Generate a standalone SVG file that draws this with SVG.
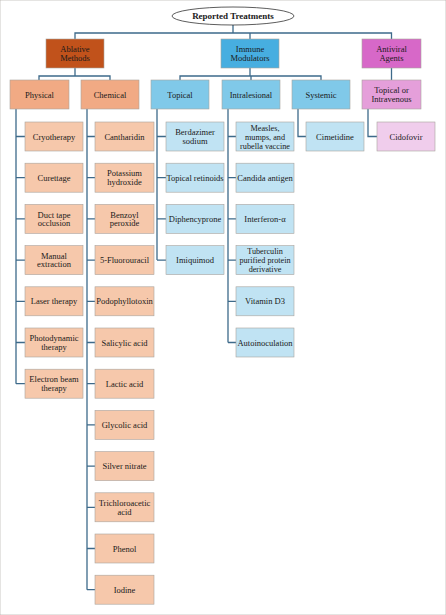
<svg xmlns="http://www.w3.org/2000/svg" width="446" height="615" viewBox="0 0 446 615">
<style>
text{font-family:"Liberation Serif","Times New Roman",serif;font-size:8.5px;fill:#1a1a1a;text-anchor:middle}
.t{font-weight:bold;font-size:9px}
.s{font-size:8.2px}
rect{stroke:#a9a39d;stroke-width:0.6}
.a1{fill:#c1521b}.a2{fill:#f1aa84}.a3{fill:#f6c8ab}
.i1{fill:#47aee0}.i2{fill:#80c9e9}.i3{fill:#c0e3f3}
.v1{fill:#d768c8}.v2{fill:#e59fda}.v3{fill:#f0cdec}
#connectors path{fill:none;stroke:#3d6a8a;stroke-width:1.3}
</style>
<rect width="446" height="615" fill="#fff" stroke="none"/>
<g id="connectors">
<path d="M233 25V33M75 39V33H391.5V39M250 33V39"/>
<path d="M75 68V76M39 80V76H110V80"/>
<path d="M250 68V76M180 80V76H321V80M251 76V80"/>
<path d="M391.5 68V80"/>
<path d="M16 109V383.7M16 136.5H25M16 177.7H25M16 218.9H25M16 260.1H25M16 301.3H25M16 342.5H25M16 383.7H25"/>
<path d="M87 109V589.7M87 136.5H95M87 177.7H95M87 218.9H95M87 260.1H95M87 301.3H95M87 342.5H95M87 383.7H95M87 424.9H95M87 466.1H95M87 507.3H95M87 548.5H95M87 589.7H95"/>
<path d="M157 109V260.1M157 136.5H166M157 177.7H166M157 218.9H166M157 260.1H166"/>
<path d="M228 109V342.5M228 136.5H236M228 177.7H236M228 218.9H236M228 260.1H236M228 301.3H236M228 342.5H236"/>
<path d="M298 109V136.5H306"/>
<path d="M368 109V136.5H377"/>
</g>
<g id="root"><ellipse cx="233" cy="16" rx="61" ry="9" fill="#fff" stroke="#333" stroke-width="0.8"/><text class="t" x="233" y="19">Reported Treatments</text></g>
<g id="ablative"><rect class="a1" x="46" y="39" width="58" height="29"/><text x="75" y="52.3">Ablative</text><text x="75" y="60.8">Methods</text></g>
<g id="immune"><rect class="i1" x="221" y="39" width="58" height="29"/><text x="250" y="52.3">Immune</text><text x="250" y="60.8">Modulators</text></g>
<g id="antiviral"><rect class="v1" x="362" y="39" width="59" height="29"/><text x="391.5" y="52.3">Antiviral</text><text x="391.5" y="60.8">Agents</text></g>
<g id="physical"><rect class="a2" x="10" y="80" width="59" height="29"/><text x="39.5" y="97.5">Physical</text></g>
<g id="chemical"><rect class="a2" x="81" y="80" width="58" height="29"/><text x="110" y="97.5">Chemical</text></g>
<g id="topical"><rect class="i2" x="151" y="80" width="58" height="29"/><text x="180" y="97.5">Topical</text></g>
<g id="intralesional"><rect class="i2" x="222" y="80" width="58" height="29"/><text x="251" y="97.5">Intralesional</text></g>
<g id="systemic"><rect class="i2" x="292" y="80" width="58" height="29"/><text x="321" y="97.5">Systemic</text></g>
<g id="topical-iv"><rect class="v2" x="362" y="80" width="59" height="29"/><text x="391.5" y="93.3">Topical or</text><text x="391.5" y="101.8">Intravenous</text></g>
<g id="cryotherapy"><rect class="a3" x="25" y="122" width="58" height="29"/><text x="54" y="139.5">Cryotherapy</text></g>
<g id="curettage"><rect class="a3" x="25" y="163.2" width="58" height="29"/><text x="54" y="180.7">Curettage</text></g>
<g id="duct-tape"><rect class="a3" x="25" y="204.4" width="58" height="29"/><text x="54" y="217.6">Duct tape</text><text x="54" y="226.1">occlusion</text></g>
<g id="manual"><rect class="a3" x="25" y="245.6" width="58" height="29"/><text x="54" y="258.8">Manual</text><text x="54" y="267.3">extraction</text></g>
<g id="laser"><rect class="a3" x="25" y="286.8" width="58" height="29"/><text x="54" y="304.3">Laser therapy</text></g>
<g id="photodynamic"><rect class="a3" x="25" y="328" width="58" height="29"/><text x="54" y="341.2">Photodynamic</text><text x="54" y="349.7">therapy</text></g>
<g id="electron"><rect class="a3" x="25" y="369.2" width="58" height="29"/><text x="54" y="382.4">Electron beam</text><text x="54" y="390.9">therapy</text></g>
<g id="cantharidin"><rect class="a3" x="95" y="122" width="59" height="29"/><text x="124.5" y="139.5">Cantharidin</text></g>
<g id="koh"><rect class="a3" x="95" y="163.2" width="59" height="29"/><text x="124.5" y="176.4">Potassium</text><text x="124.5" y="184.9">hydroxide</text></g>
<g id="benzoyl"><rect class="a3" x="95" y="204.4" width="59" height="29"/><text x="124.5" y="217.6">Benzoyl</text><text x="124.5" y="226.1">peroxide</text></g>
<g id="fu"><rect class="a3" x="95" y="245.6" width="59" height="29"/><text x="124.5" y="263.1">5-Fluorouracil</text></g>
<g id="podo"><rect class="a3" x="95" y="286.8" width="59" height="29"/><text x="124.5" y="304.3">Podophyllotoxin</text></g>
<g id="salicylic"><rect class="a3" x="95" y="328" width="59" height="29"/><text x="124.5" y="345.5">Salicylic acid</text></g>
<g id="lactic"><rect class="a3" x="95" y="369.2" width="59" height="29"/><text x="124.5" y="386.7">Lactic acid</text></g>
<g id="glycolic"><rect class="a3" x="95" y="410.4" width="59" height="29"/><text x="124.5" y="427.9">Glycolic acid</text></g>
<g id="silver"><rect class="a3" x="95" y="451.6" width="59" height="29"/><text x="124.5" y="469.1">Silver nitrate</text></g>
<g id="tca"><rect class="a3" x="95" y="492.8" width="59" height="29"/><text x="124.5" y="506">Trichloroacetic</text><text x="124.5" y="514.5">acid</text></g>
<g id="phenol"><rect class="a3" x="95" y="534" width="59" height="29"/><text x="124.5" y="551.5">Phenol</text></g>
<g id="iodine"><rect class="a3" x="95" y="575.2" width="59" height="29"/><text x="124.5" y="592.7">Iodine</text></g>
<g id="berdazimer"><rect class="i3" x="166" y="122" width="58" height="29"/><text x="195" y="135.2">Berdazimer</text><text x="195" y="143.7">sodium</text></g>
<g id="retinoids"><rect class="i3" x="166" y="163.2" width="58" height="29"/><text x="195" y="180.7">Topical retinoids</text></g>
<g id="diphencyprone"><rect class="i3" x="166" y="204.4" width="58" height="29"/><text x="195" y="221.9">Diphencyprone</text></g>
<g id="imiquimod"><rect class="i3" x="166" y="245.6" width="58" height="29"/><text x="195" y="263.1">Imiquimod</text></g>
<g id="mmr"><rect class="i3" x="236" y="122" width="58" height="29"/><text class="s" x="265" y="130.5">Measles,</text><text class="s" x="265" y="139.5">mumps, and</text><text class="s" x="265" y="148.5">rubella vaccine</text></g>
<g id="candida"><rect class="i3" x="236" y="163.2" width="58" height="29"/><text x="265" y="180.7">Candida antigen</text></g>
<g id="interferon"><rect class="i3" x="236" y="204.4" width="58" height="29"/><text x="265" y="221.9">Interferon-α</text></g>
<g id="ppd"><rect class="i3" x="236" y="245.6" width="58" height="29"/><text class="s" x="265" y="254.1">Tuberculin</text><text class="s" x="265" y="263.1">purified protein</text><text class="s" x="265" y="272.1">derivative</text></g>
<g id="vitd3"><rect class="i3" x="236" y="286.8" width="58" height="29"/><text x="265" y="304.3">Vitamin D3</text></g>
<g id="autoinoculation"><rect class="i3" x="236" y="328" width="58" height="29"/><text x="265" y="345.5">Autoinoculation</text></g>
<g id="cimetidine"><rect class="i3" x="306" y="122" width="58" height="29"/><text x="335" y="139.5">Cimetidine</text></g>
<g id="cidofovir"><rect class="v3" x="377" y="122" width="58" height="29"/><text x="406" y="139.5">Cidofovir</text></g>
</svg>
